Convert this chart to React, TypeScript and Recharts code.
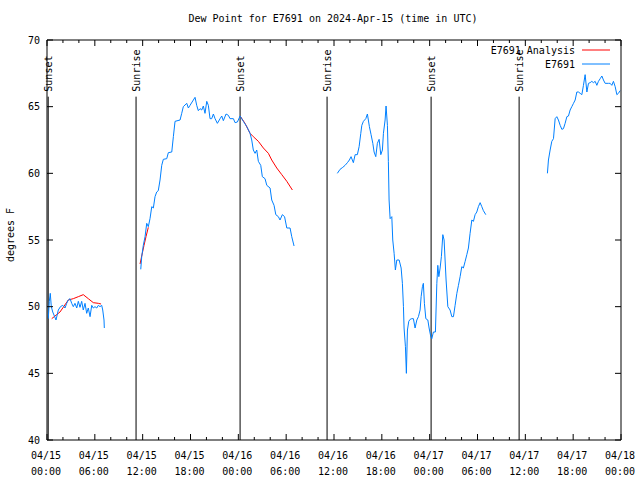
import React from 'react';
import { LineChart, Line, XAxis, YAxis, ReferenceLine, Legend } from 'recharts';

// hours since 04/15 00:00 UTC, dew point in degrees F
const obsH1 = [0.16, 0.29, 0.41, 0.54, 0.72, 1.13, 1.42, 1.69, 1.97, 2.26, 2.47, 2.67, 2.89, 3.10, 3.30, 3.51, 3.73, 3.93, 4.14, 4.35, 4.55, 4.77, 4.98, 5.18, 5.40, 5.61, 5.81, 6.02, 6.24, 6.44, 6.65, 6.86, 6.99, 7.15, 7.19];
const obsV1 = [49.1, 50.4, 51.0, 50.0, 49.6, 49.0, 49.75, 50.0, 50.1, 49.9, 50.25, 50.5, 50.6, 50.25, 50.0, 50.25, 49.9, 50.4, 49.95, 50.4, 49.75, 50.25, 49.5, 49.9, 49.25, 50.1, 49.9, 50.0, 49.9, 50.1, 50.0, 50.1, 49.75, 49.0, 48.4];

const obsH2 = [11.76, 11.88, 12.08, 12.30, 12.51, 12.71, 12.92, 13.14, 13.34, 13.55, 13.76, 13.96, 14.18, 14.39, 14.59, 15.02, 15.22, 15.65, 15.85, 16.06, 16.69, 16.90, 17.10, 17.53, 17.73, 17.94, 18.36, 18.57, 18.78, 18.98, 19.20, 19.41, 19.61, 19.82, 20.04, 20.24, 20.45, 20.66, 20.87, 21.08, 21.37, 21.71, 21.92, 22.12, 22.46, 22.75, 22.96, 23.38, 23.59, 23.88, 24.22, 24.63, 25.06, 25.47, 25.68, 25.88, 26.10, 26.31, 26.51, 26.81, 27.01, 27.35, 27.57, 27.98, 28.19, 28.48, 28.70, 29.02, 29.23, 29.52, 29.80, 30.08, 30.49, 30.70, 30.99];
const obsV2 = [52.8, 53.75, 54.6, 55.25, 56.25, 56.0, 56.6, 57.5, 57.4, 58.25, 58.6, 58.7, 59.5, 60.6, 61.05, 61.1, 61.55, 61.6, 62.75, 63.9, 64.0, 64.5, 65.0, 65.25, 64.9, 65.1, 65.5, 65.7, 65.1, 64.7, 64.85, 64.75, 65.05, 64.5, 65.4, 65.1, 64.1, 64.1, 64.45, 64.1, 63.75, 64.1, 64.3, 63.95, 64.45, 64.35, 64.1, 64.1, 63.8, 63.85, 64.3, 63.9, 63.5, 63.0, 62.5, 61.75, 61.5, 61.75, 60.9, 60.6, 59.75, 59.6, 59.1, 58.9, 58.0, 57.6, 56.9, 56.75, 56.5, 56.9, 56.75, 55.9, 55.9, 55.25, 54.55];

const obsH3 = [36.42, 36.76, 37.10, 37.39, 37.68, 37.93, 38.14, 38.43, 38.65, 38.93, 39.15, 39.36, 39.49, 39.69, 39.99, 40.19, 40.44, 40.65, 40.87, 41.03, 41.24, 41.44, 41.66, 41.87, 42.07, 42.20, 42.41, 42.53, 42.70, 42.82, 42.91, 43.04, 43.25, 43.37, 43.54, 43.70, 43.88, 44.17, 44.42, 44.58, 44.71, 44.79, 44.96, 45.08, 45.21, 45.38, 45.55, 45.76, 45.96, 46.17, 46.39, 46.59, 46.80, 46.93, 47.09, 47.21, 47.34, 47.52, 47.77, 47.93, 48.14, 48.27, 48.47, 48.72, 48.90, 49.02, 49.15, 49.31, 49.47, 49.65, 49.81, 50.06, 50.28, 50.56, 50.78, 50.98, 51.19, 51.41, 51.61, 51.82, 52.03, 52.23, 52.45, 52.66, 52.86, 53.07, 53.29, 53.49, 53.70, 53.91, 54.11, 54.33, 54.54, 54.74, 55.04];
const obsV3 = [60.0, 60.3, 60.45, 60.6, 60.8, 61.0, 61.25, 60.8, 61.4, 61.4, 62.0, 63.0, 63.6, 63.9, 64.1, 64.45, 63.5, 62.9, 62.25, 61.6, 61.25, 62.25, 62.55, 61.4, 61.75, 63.0, 64.0, 65.05, 63.6, 60.9, 58.0, 56.6, 56.75, 55.0, 54.0, 52.75, 53.5, 53.5, 52.9, 51.75, 50.0, 48.4, 47.0, 45.0, 48.25, 48.9, 49.05, 49.1, 49.1, 48.4, 49.0, 49.25, 49.75, 50.75, 51.5, 51.75, 50.25, 49.1, 49.0, 48.4, 47.75, 47.6, 48.1, 48.1, 51.75, 53.1, 52.25, 52.9, 53.75, 55.4, 55.0, 52.0, 50.0, 49.75, 49.25, 49.25, 50.1, 51.0, 51.6, 52.25, 53.0, 52.9, 53.4, 53.9, 54.4, 55.5, 56.5, 56.4, 56.9, 57.1, 57.5, 57.8, 57.5, 57.2, 56.9];

const obsH4 = [62.77, 62.90, 63.11, 63.32, 63.53, 63.74, 63.95, 64.15, 64.37, 64.58, 64.78, 64.99, 65.21, 65.41, 65.62, 65.83, 66.04, 66.25, 66.46, 66.66, 66.88, 67.09, 67.29, 67.50, 67.72, 67.92, 68.13, 68.34, 68.54, 68.76, 68.97, 69.17, 69.39, 69.60, 69.80, 70.01, 70.43, 70.64, 70.85, 71.05, 71.27, 71.48, 71.68, 71.89];
const obsV4 = [60.0, 61.0, 61.75, 62.4, 62.6, 64.1, 64.25, 64.0, 63.6, 63.3, 63.35, 63.75, 64.25, 64.3, 64.75, 65.0, 65.25, 65.5, 66.1, 66.1, 66.0, 65.9, 66.6, 67.4, 66.1, 66.75, 66.8, 66.9, 66.8, 66.9, 66.6, 66.9, 67.1, 67.3, 67.0, 66.75, 66.75, 66.75, 66.6, 66.9, 66.5, 65.9, 66.0, 66.2];

const anaH1 = [0.59, 1.63, 2.67, 3.30, 3.93, 4.55, 5.18, 5.81, 6.44, 6.78];
const anaV1 = [49.1, 49.6, 50.5, 50.6, 50.75, 50.9, 50.6, 50.3, 50.25, 50.2];
const anaH2 = [11.67, 11.88, 12.17, 12.42, 12.71];
const anaV2 = [53.2, 53.8, 54.6, 55.25, 55.95];
const anaH3 = [24.22, 24.84, 25.47, 25.88, 26.51, 27.14, 27.77, 28.19, 28.82, 29.45, 30.08, 30.78];
const anaV3 = [64.3, 63.75, 63.0, 62.75, 62.4, 61.9, 61.5, 61.0, 60.4, 59.9, 59.4, 58.75];

const sunEvents = [0.15, 11.17, 24.22, 35.13, 48.18, 59.22];
const sunNames = ['Sunset', 'Sunrise', 'Sunset', 'Sunrise', 'Sunset', 'Sunrise'];
const sunLineTop = 65.75;

const xTicks = Array.from({ length: 37 }, (_, i) => i * 2);
const yTicks = [40, 45, 50, 55, 60, 65, 70];
const dayLabels = ['04/15', '04/15', '04/15', '04/15', '04/16', '04/16', '04/16', '04/16', '04/17', '04/17', '04/17', '04/17', '04/18'];
const timeLabels = ['00:00', '06:00', '12:00', '18:00'];
const legendOrder = ['E7691 Analysis', 'E7691'];

const FONT = '"DejaVu Sans Mono", monospace';
const BLUE = '#0080ff';
const RED = '#ff0000';

const zip = (hs: number[], vs: number[]) => hs.map((h, i) => ({ h, v: vs[i] }));

const BottomTick = (props: any) => {
    const { x, y, payload } = props;
    const h = payload.value;
    const major = h % 6 === 0;
    return (
        <g>
            <line x1={x} x2={x} y1={y} y2={y - (major ? 6 : 3)} stroke="#000" />
            {major && (
                <text x={x} y={y} textAnchor="middle" fontFamily={FONT} fontSize={10} fill="#000">
                    <tspan x={x - 1} dy={19}>{dayLabels[h / 6]}</tspan>
                    <tspan x={x - 1} dy={16}>{timeLabels[(h / 6) % 4]}</tspan>
                </text>
            )}
        </g>
    );
};

const TopTick = (props: any) => {
    const { x, y, payload } = props;
    const major = payload.value % 6 === 0;
    return <line x1={x} x2={x} y1={y} y2={y + (major ? 6 : 3)} stroke="#000" />;
};

const LeftTick = (props: any) => {
    const { x, y, payload } = props;
    return (
        <g>
            <line x1={x} x2={x + 6} y1={y} y2={y} stroke="#000" />
            <text x={x - 7} y={y} dy="0.35em" textAnchor="end" fontFamily={FONT} fontSize={10} fill="#000">
                {payload.value}
            </text>
        </g>
    );
};

const RightTick = (props: any) => {
    const { x, y } = props;
    return <line x1={x} x2={x - 6} y1={y} y2={y} stroke="#000" />;
};

const SunLabel = (props: any) => {
    const { viewBox, text } = props;
    if (!viewBox) return null;
    const x = viewBox.x + 4;
    const y = viewBox.y - 5;
    return (
        <text x={x} y={y} transform={`rotate(-90 ${x} ${y})`} fontFamily={FONT} fontSize={10} fill="#000">
            {text}
        </text>
    );
};

const YTitle = (props: any) => {
    const { viewBox } = props;
    const x = 14;
    const y = viewBox ? viewBox.y + viewBox.height / 2 - 5 : 235;
    return (
        <text x={x} y={y} transform={`rotate(-90 ${x} ${y})`} textAnchor="middle" fontFamily={FONT} fontSize={10} fill="#000">
            degrees F
        </text>
    );
};

const LegendBox = (props: any) => {
    const items = (props.payload || [])
        .filter((p: any) => legendOrder.includes(p.value))
        .sort((a: any, b: any) => legendOrder.indexOf(a.value) - legendOrder.indexOf(b.value));
    return (
        <div style={{ fontFamily: FONT, fontSize: 10 }}>
            {items.map((it: any) => (
                <div key={it.value} style={{ display: 'flex', alignItems: 'center', justifyContent: 'flex-end', height: 14 }}>
                    <span>{it.value}</span>
                    <svg width={36} height={4} style={{ marginLeft: 7 }}>
                        <line x1={0} x2={28} y1={2} y2={2} stroke={it.color} />
                    </svg>
                </div>
            ))}
        </div>
    );
};

export default function App() {
    return (
        <div style={{ position: 'absolute', left: 0, top: 0, width: 640, height: 480, background: '#fff' }}>
            <div
                style={{
                    position: 'absolute',
                    left: 46,
                    width: 574,
                    top: 13,
                    textAlign: 'center',
                    fontFamily: FONT,
                    fontSize: 10,
                }}
            >
                Dew Point for E7691 on 2024-Apr-15 (time in UTC)
            </div>
            <LineChart width={640} height={480} margin={{ top: 39, right: 18, bottom: 39, left: 0 }}>
                <XAxis
                    dataKey="h"
                    type="number"
                    domain={[0, 72]}
                    ticks={xTicks}
                    interval={0}
                    tickSize={0}
                    tickMargin={0}
                    tickLine={false}
                    tick={<BottomTick />}
                    height={1}
                    stroke="#000"
                    allowDataOverflow
                />
                <XAxis
                    xAxisId="top"
                    orientation="top"
                    dataKey="h"
                    type="number"
                    domain={[0, 72]}
                    ticks={xTicks}
                    interval={0}
                    tickSize={0}
                    tickMargin={0}
                    tickLine={false}
                    tick={<TopTick />}
                    height={1}
                    stroke="#000"
                    allowDataOverflow
                />
                <YAxis
                    type="number"
                    domain={[40, 70]}
                    ticks={yTicks}
                    interval={0}
                    width={47}
                    tickSize={0}
                    tickMargin={0}
                    tickLine={false}
                    tick={<LeftTick />}
                    stroke="#000"
                    label={<YTitle />}
                    allowDataOverflow
                />
                <YAxis
                    yAxisId="right"
                    orientation="right"
                    type="number"
                    domain={[40, 70]}
                    ticks={yTicks}
                    interval={0}
                    width={1}
                    tickSize={0}
                    tickMargin={0}
                    tickLine={false}
                    tick={<RightTick />}
                    stroke="#000"
                    allowDataOverflow
                />
                {sunEvents.map((h, i) => (
                    <ReferenceLine
                        key={i}
                        segment={[{ x: h, y: 40 }, { x: h, y: sunLineTop }]}
                        stroke="#000"
                        strokeWidth={1}
                        label={<SunLabel text={sunNames[i]} />}
                    />
                ))}
                <Legend
                    layout="vertical"
                    align="center"
                    verticalAlign="middle"
                    content={<LegendBox />}
                    wrapperStyle={{ position: 'absolute', top: 43, left: 'auto', right: 22, width: 200 }}
                />
                <Line data={zip(anaH1, anaV1)} dataKey="v" name="E7691 Analysis" stroke={RED} strokeWidth={1} dot={false} isAnimationActive={false} />
                <Line data={zip(anaH2, anaV2)} dataKey="v" name="ana2" legendType="none" stroke={RED} strokeWidth={1} dot={false} isAnimationActive={false} />
                <Line data={zip(anaH3, anaV3)} dataKey="v" name="ana3" legendType="none" stroke={RED} strokeWidth={1} dot={false} isAnimationActive={false} />
                <Line data={zip(obsH1, obsV1)} dataKey="v" name="E7691" stroke={BLUE} strokeWidth={1} dot={false} isAnimationActive={false} />
                <Line data={zip(obsH2, obsV2)} dataKey="v" name="obs2" legendType="none" stroke={BLUE} strokeWidth={1} dot={false} isAnimationActive={false} />
                <Line data={zip(obsH3, obsV3)} dataKey="v" name="obs3" legendType="none" stroke={BLUE} strokeWidth={1} dot={false} isAnimationActive={false} />
                <Line data={zip(obsH4, obsV4)} dataKey="v" name="obs4" legendType="none" stroke={BLUE} strokeWidth={1} dot={false} isAnimationActive={false} />
            </LineChart>
        </div>
    );
}
